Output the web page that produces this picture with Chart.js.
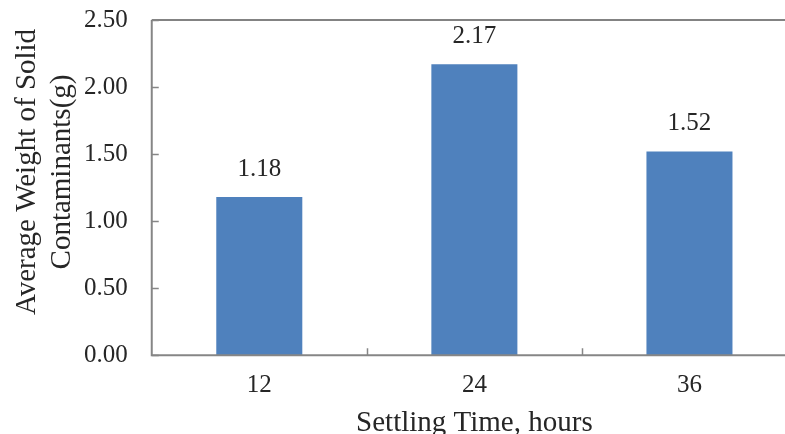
<!DOCTYPE html>
<html>
<head>
<meta charset="utf-8">
<script src="https://cdn.jsdelivr.net/npm/chart.js@4"></script>
<style>
html,body{margin:0;padding:0;background:#fff;overflow:hidden;width:785px;height:434px;}
canvas{display:block;margin-top:-19px;}
</style>
</head>
<body>
<canvas id="c" width="800" height="462"></canvas>
<script>
const categories = ['12', '24', '36'];
const weights = [1.18, 2.17, 1.52];
const yMin = 0, yMax = 2.5, yStep = 0.5;
const xTitle = 'Settling Time, hours';
const yTitleLines = ['Average Weight of Solid', 'Contaminants(g)'];

const FONT = '"Liberation Serif", "Times New Roman", serif';
const TEXT = '#262626';

const decor = {
  id: 'decor',
  afterDraw(chart) {
    const ctx = chart.ctx, a = chart.chartArea;
    const xs = chart.scales.x, ys = chart.scales.y;
    ctx.save();
    // frame: left, bottom, top
    ctx.strokeStyle = '#868686';
    ctx.lineWidth = 2;
    ctx.beginPath();
    ctx.moveTo(a.left, a.top);
    ctx.lineTo(a.left, a.bottom);
    ctx.lineTo(a.right, a.bottom);
    ctx.stroke();
    ctx.strokeStyle = '#5a5a5a';
    ctx.lineWidth = 1.5;
    ctx.beginPath();
    ctx.moveTo(a.left, a.top);
    ctx.lineTo(a.right, a.top);
    ctx.stroke();
    // inward ticks
    ctx.strokeStyle = '#868686';
    ctx.lineWidth = 1.5;
    ctx.beginPath();
    ys.ticks.forEach(t => {
      const py = Math.round(ys.getPixelForValue(t.value)) + 0.5;
      ctx.moveTo(a.left, py);
      ctx.lineTo(a.left + 7, py);
    });
    for (let i = 0; i < categories.length - 1; i++) {
      const px = Math.round((xs.getPixelForTick(i) + xs.getPixelForTick(i + 1)) / 2) + 0.5;
      ctx.moveTo(px, a.bottom);
      ctx.lineTo(px, a.bottom - 7);
    }
    ctx.stroke();
    // data labels
    const meta = chart.getDatasetMeta(0);
    ctx.fillStyle = TEXT;
    ctx.font = '25px ' + FONT;
    ctx.textAlign = 'center';
    ctx.textBaseline = 'middle';
    meta.data.forEach((bar, i) => {
      ctx.fillText(weights[i].toFixed(2), bar.x, bar.y - 28);
    });
    // y axis title
    ctx.font = '29px ' + FONT;
    ctx.translate(0, 191);
    ctx.rotate(-Math.PI / 2);
    ctx.fillText(yTitleLines[0], 0, 27);
    ctx.fillText(yTitleLines[1], 0, 62);
    ctx.restore();
  }
};

new Chart(document.getElementById('c'), {
  type: 'bar',
  data: {
    labels: categories,
    datasets: [{
      data: weights,
      backgroundColor: '#4F81BD',
      borderWidth: 0,
      barPercentage: 0.4,
      categoryPercentage: 1.0
    }]
  },
  options: {
    responsive: false,
    animation: false,
    devicePixelRatio: 1,
    layout: { padding: { left: 60, top: 2, right: 3, bottom: 2 } },
    plugins: { legend: { display: false }, tooltip: { enabled: false } },
    scales: {
      x: {
        grid: { display: false, drawTicks: false },
        border: { display: false },
        ticks: { color: TEXT, font: { family: FONT, size: 25 }, padding: 15 },
        title: { display: true, text: xTitle, color: TEXT, font: { family: FONT, size: 29 }, padding: { top: -9, bottom: 0 } }
      },
      y: {
        min: yMin, max: yMax,
        grid: { display: false, drawTicks: false },
        border: { display: false },
        ticks: { stepSize: yStep, color: TEXT, font: { family: FONT, size: 25 }, padding: 24,
                 callback: v => Number(v).toFixed(2) }
      }
    }
  },
  plugins: [decor]
});
</script>
</body>
</html>
